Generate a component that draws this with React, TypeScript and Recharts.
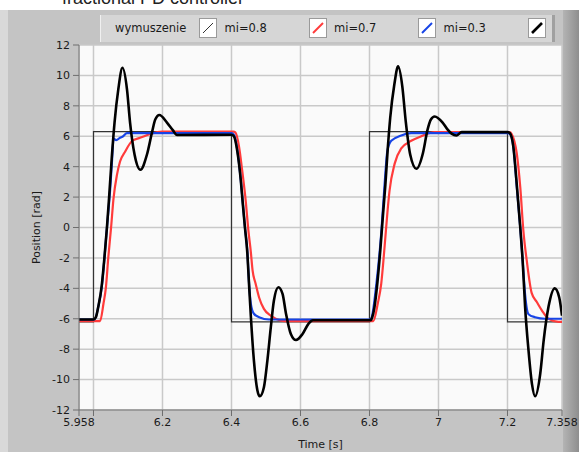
import { LineChart, Line, XAxis, YAxis, CartesianGrid } from "recharts";

// time [s], position [rad] pairs
const wymuszenie: [number, number][] = [
  [5.958, -6.2], [6.0, -6.2], [6.0, 6.3], [6.4, 6.3], [6.4, -6.2],
  [6.8, -6.2], [6.8, 6.3], [7.2, 6.3], [7.2, -6.2], [7.358, -6.2],
];

const mi08: [number, number][] = [
  [5.958, -6.15], [6.019, -6.15], [6.029, -5.0], [6.036, -3.93], [6.043, -1.95],
  [6.051, 0], [6.058, 1.9], [6.068, 3.46], [6.077, 4.34], [6.092, 5.0],
  [6.111, 5.67], [6.135, 5.9], [6.165, 6.15], [6.199, 6.3], [6.406, 6.3],
  [6.411, 6.25], [6.422, 5.3], [6.431, 3.75], [6.441, 1.8], [6.449, -0.2],
  [6.456, -1.6], [6.461, -2.8], [6.47, -3.7], [6.48, -4.6], [6.494, -5.35],
  [6.514, -5.8], [6.528, -6.0], [6.553, -6.15], [6.811, -6.15], [6.824, -5.0],
  [6.834, -3.7], [6.844, -1.2], [6.852, 1.0], [6.858, 2.4], [6.873, 4.2],
  [6.892, 5.2], [6.921, 5.7], [6.95, 6.0], [6.988, 6.27], [7.206, 6.27],
  [7.212, 6.15], [7.227, 4.85], [7.237, 2.65], [7.246, -0.2], [7.256, -2.2],
  [7.27, -4.3], [7.285, -4.9], [7.3, -5.46], [7.319, -6.0], [7.348, -6.2],
  [7.358, -6.2],
];

const mi07: [number, number][] = [
  [5.958, -6.05], [6.003, -6.05], [6.014, -5.2], [6.024, -3.9], [6.032, -1.95],
  [6.039, 0], [6.045, 1.55], [6.048, 2.4], [6.054, 4.5], [6.058, 5.85],
  [6.066, 5.75], [6.077, 5.9], [6.086, 6.0], [6.097, 6.2], [6.4, 6.2],
  [6.407, 6.1], [6.417, 5.07], [6.427, 3.1], [6.433, 1.57], [6.439, 0],
  [6.446, -1.6], [6.451, -3.7], [6.456, -5.0], [6.465, -5.67], [6.48, -5.9],
  [6.509, -6.05], [6.802, -6.05], [6.805, -6.0], [6.82, -3.7], [6.834, -0.4],
  [6.844, 2.9], [6.852, 5.07], [6.863, 5.7], [6.892, 6.05], [6.921, 6.2],
  [7.201, 6.2], [7.207, 6.15], [7.217, 5.3], [7.227, 2.65], [7.237, 0],
  [7.244, -2.2], [7.251, -4.4], [7.261, -5.7], [7.28, -5.9], [7.309, -6.0],
  [7.358, -6.0],
];

const mi03: [number, number][] = [
  [5.958, -6.05], [6.0, -6.05], [6.007, -5.9], [6.014, -5.2], [6.024, -3.8],
  [6.032, -1.9], [6.039, 0], [6.045, 1.9], [6.053, 4.6], [6.061, 6.9],
  [6.072, 9.1], [6.084, 10.5], [6.097, 9.1], [6.106, 6.9], [6.119, 4.8],
  [6.136, 3.8], [6.155, 4.8], [6.17, 6.3], [6.179, 7.1], [6.191, 7.4],
  [6.213, 6.9], [6.23, 6.4], [6.242, 6.08], [6.4, 6.1], [6.407, 6.0],
  [6.417, 5.0], [6.427, 3.1], [6.433, 1.5], [6.439, 0], [6.446, -1.7],
  [6.451, -3.8], [6.456, -5.8], [6.465, -8.75], [6.475, -10.7], [6.482, -11.1],
  [6.494, -10.5], [6.504, -8.75], [6.514, -6.55], [6.523, -4.8], [6.536, -3.93],
  [6.548, -4.37], [6.558, -5.67], [6.572, -7.0], [6.587, -7.4], [6.606, -7.0],
  [6.624, -6.3], [6.636, -6.1], [6.802, -6.1], [6.808, -5.9], [6.814, -5.3],
  [6.823, -3.6], [6.832, -1.3], [6.839, 0.8], [6.846, 2.8], [6.853, 5.2],
  [6.86, 7.2], [6.872, 9.4], [6.883, 10.6], [6.895, 9.3], [6.905, 7.0],
  [6.918, 4.8], [6.936, 3.86], [6.955, 4.9], [6.968, 6.4], [6.978, 7.1],
  [6.989, 7.3], [7.012, 6.9], [7.026, 6.45], [7.038, 6.17], [7.052, 6.05],
  [7.067, 6.27], [7.201, 6.27], [7.207, 6.2], [7.217, 5.3], [7.227, 2.8],
  [7.237, 0], [7.244, -2.2], [7.251, -5.2], [7.261, -8.1], [7.271, -10.3],
  [7.28, -11.1], [7.295, -9.6], [7.305, -7.4], [7.319, -5.2], [7.337, -4.0],
  [7.35, -4.6], [7.358, -5.8],
];

const xTicks = [5.958, 6, 6.2, 6.4, 6.6, 6.8, 7, 7.2, 7.358];
const yTicks = [-12, -10, -8, -6, -4, -2, 0, 2, 4, 6, 8, 10, 12];

const legendNames = ["wymuszenie", "mi=0.8", "mi=0.7", "mi=0.3"];
const legendColors = ["#333333", "#ff3b3b", "#1744e6", "#000000"];
const legendWidths = [1, 2, 2, 2.6];

const toRows = (pts: [number, number][]) => pts.map(([t, v]) => ({ t, v }));

const font = "'DejaVu Sans', Tahoma, sans-serif";
const tickStyle = { fontSize: 11, fill: "#1a1a1a", fontFamily: font };

function LegendIcon({ color, width }: { color: string; width: number }) {
  return (
    <svg width={18} height={20} style={{ display: "block" }}>
      <rect x={0.5} y={0.5} width={17} height={19} fill="#fff" stroke="#9a9a9a" />
      <line x1={4} y1={15} x2={14} y2={5} stroke={color} strokeWidth={width} />
    </svg>
  );
}

export default function App() {
  return (
    <div
      style={{
        position: "fixed",
        left: 0,
        top: 0,
        width: 579,
        height: 452,
        overflow: "hidden",
        background: "#fff",
        fontFamily: font,
      }}
    >
      <div
        style={{
          position: "absolute",
          left: 62,
          top: -11,
          fontSize: 18,
          lineHeight: "18px",
          fontFamily: "'Liberation Sans', Arial, sans-serif",
          color: "#222",
        }}
      >
        fractional PD controller
      </div>
      {/* gray panel */}
      <div style={{ position: "absolute", left: 0, top: 10, width: 579, height: 442, background: "#c4c4c4" }} />
      <div style={{ position: "absolute", left: 0, top: 10, width: 8, height: 442, background: "#d9d9d9" }} />
      <div
        style={{
          position: "absolute",
          left: 563,
          top: 10,
          width: 16,
          height: 442,
          background: "linear-gradient(to right, #b4b4b4, #8e8e8e)",
        }}
      />
      {/* legend */}
      <div
        style={{
          position: "absolute",
          left: 100,
          top: 15,
          width: 455,
          height: 27,
          background: "#d6d6d6",
          borderLeft: "1px solid #f0f0f0",
          borderRight: "3px solid #a0a0a0",
          boxSizing: "border-box",
        }}
      >
        {legendNames.map((name, i) => (
          <div key={name}>
            <div
              style={{
                position: "absolute",
                left: 14 + i * 109.5,
                top: 6,
                fontSize: 11.5,
                lineHeight: "14px",
                color: "#1a1a1a",
              }}
            >
              {name}
            </div>
            <div style={{ position: "absolute", left: 98 + i * 109.5, top: 3 }}>
              <LegendIcon color={legendColors[i]} width={legendWidths[i]} />
            </div>
          </div>
        ))}
      </div>
      <div style={{ position: "absolute", left: 0, top: 0 }}>
        <LineChart width={579} height={452} margin={{ top: 45, right: 17, bottom: 0, left: 0 }}>
          <CartesianGrid stroke="#c9c9c9" strokeWidth={1.5} fill="#fafafa" fillOpacity={1} />
          <XAxis
            type="number"
            dataKey="t"
            domain={[5.958, 7.358]}
            ticks={xTicks}
            interval={0}
            height={42}
            tick={tickStyle}
            tickSize={6}
            tickMargin={2}
            stroke="#6e6e6e"
            tickFormatter={(v: number) => (v === 6 ? "" : String(v))}
            allowDataOverflow
            label={{
              value: "Time [s]",
              position: "insideBottom",
              offset: 4,
              style: { fontSize: 11, fill: "#1a1a1a", fontFamily: font },
            }}
          />
          <YAxis
            type="number"
            domain={[-12, 12]}
            ticks={yTicks}
            interval={0}
            width={79}
            tick={tickStyle}
            tickSize={6}
            tickMargin={3}
            stroke="#6e6e6e"
            allowDataOverflow
            label={{
              value: "Position [rad]",
              angle: -90,
              position: "center",
              dx: -3,
              style: { fontSize: 11, fill: "#1a1a1a", fontFamily: font, textAnchor: "middle" },
            }}
          />
          <Line
            data={toRows(wymuszenie)}
            dataKey="v"
            type="linear"
            stroke="#333333"
            strokeWidth={1.2}
            dot={false}
            activeDot={false}
            isAnimationActive={false}
            name="wymuszenie"
          />
          <Line
            data={toRows(mi08)}
            dataKey="v"
            type="monotone"
            stroke="#ff3b3b"
            strokeWidth={2.2}
            dot={false}
            activeDot={false}
            isAnimationActive={false}
            name="mi=0.8"
          />
          <Line
            data={toRows(mi07)}
            dataKey="v"
            type="monotone"
            stroke="#1744e6"
            strokeWidth={2.2}
            dot={false}
            activeDot={false}
            isAnimationActive={false}
            name="mi=0.7"
          />
          <Line
            data={toRows(mi03)}
            dataKey="v"
            type="monotone"
            stroke="#000000"
            strokeWidth={2.6}
            dot={false}
            activeDot={false}
            isAnimationActive={false}
            name="mi=0.3"
          />
        </LineChart>
      </div>
    </div>
  );
}
